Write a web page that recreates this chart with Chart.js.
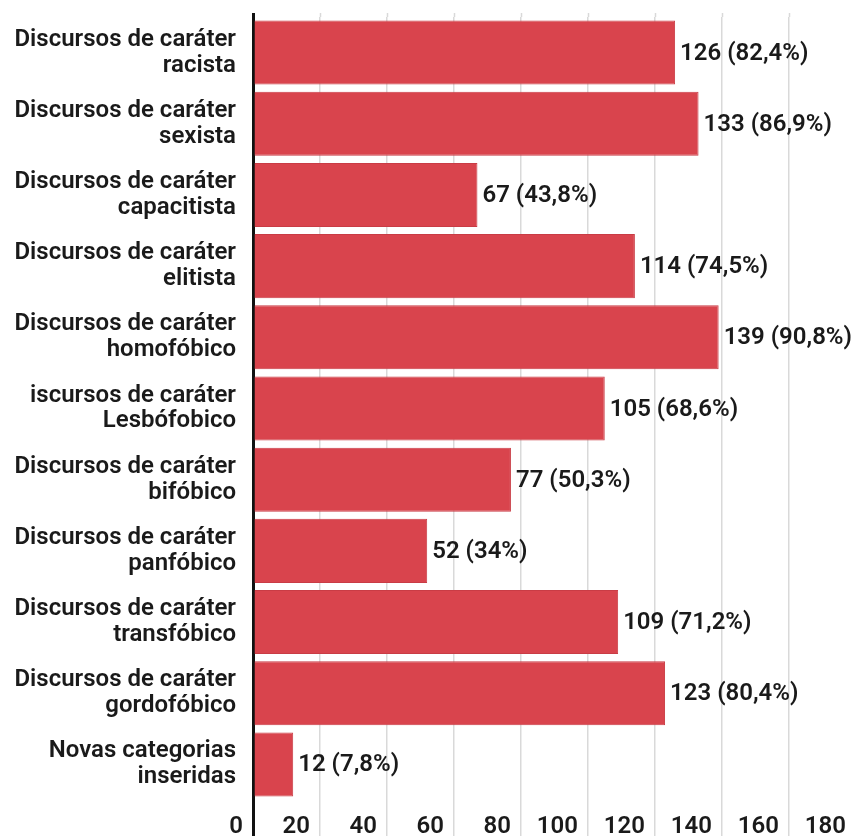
<!DOCTYPE html>
<html>
<head>
<meta charset="utf-8">
<script src="https://cdn.jsdelivr.net/npm/chart.js@4"></script>
<style>
    html, body { margin: 0; padding: 0; background: #fff; overflow: hidden; }
    #wrap { width: 860px; height: 836px; }
</style>
</head>
<body>
<div id="wrap"><canvas id="myChart"></canvas></div>
<script>
const categories = [
    ['Discursos de caráter', 'racista'],
    ['Discursos de caráter', 'sexista'],
    ['Discursos de caráter', 'capacitista'],
    ['Discursos de caráter', 'elitista'],
    ['Discursos de caráter', 'homofóbico'],
    ['iscursos de caráter', 'Lesbófobico'],
    ['Discursos de caráter', 'bifóbico'],
    ['Discursos de caráter', 'panfóbico'],
    ['Discursos de caráter', 'transfóbico'],
    ['Discursos de caráter', 'gordofóbico'],
    ['Novas categorias', 'inseridas'],
];
const counts = [126, 133, 67, 114, 139, 105, 77, 52, 109, 123, 12];
const percents = ['82,4', '86,9', '43,8', '74,5', '90,8', '68,6', '50,3', '34', '71,2', '80,4', '7,8'];
const xTicks = [0, 20, 40, 60, 80, 100, 120, 140, 160, 180];

const fontFamily = 'Roboto, "Open Sans", sans-serif';
const textColor = '#1a1a1a';

// value labels at the end of every bar: "126 (82,4%)"
const barLabels = {
    id: 'barLabels',
    afterDatasetsDraw(chart) {
        const ctx = chart.ctx;
        const meta = chart.getDatasetMeta(0);
        ctx.save();
        ctx.font = '600 24px ' + fontFamily;
        ctx.fillStyle = textColor;
        ctx.textAlign = 'left';
        ctx.textBaseline = 'middle';
        meta.data.forEach((bar, i) => {
            ctx.fillText(counts[i] + ' (' + percents[i] + '%)', bar.x + 5, bar.y + 1);
        });
        ctx.restore();
    }
};

const gridColor = (c) => (c.tick && c.tick.value === 0) ? '#111' : '#d9d9d9';
const gridWidth = (c) => (c.tick && c.tick.value === 0) ? 3 : 1.5;

new Chart(document.getElementById('myChart'), {
    type: 'bar',
    data: {
        labels: categories,
        datasets: [{
            data: counts,
            backgroundColor: '#d9444d',
            borderColor: '#c93c45',
            borderWidth: 1,
            barPercentage: 0.9,
            categoryPercentage: 1,
        }],
    },
    options: {
        indexAxis: 'y',
        responsive: true,
        maintainAspectRatio: false,
        animation: false,
        layout: { padding: { left: 0, right: 4, top: 0, bottom: 0 } },
        plugins: {
            legend: { display: false },
            tooltip: { enabled: false },
        },
        scales: {
            x: {
                position: 'bottom',
                min: 0,
                max: 180,
                afterBuildTicks: (s) => { s.ticks = xTicks.map(v => ({ value: v })); },
                afterFit: (s) => { s.height = 36; },
                border: { display: false },
                grid: {
                    color: gridColor,
                    lineWidth: gridWidth,
                    tickColor: gridColor,
                    tickWidth: gridWidth,
                    tickLength: 36,
                },
                ticks: {
                    align: 'end',
                    labelOffset: -10,
                    padding: -23,
                    color: textColor,
                    maxRotation: 0,
                    autoSkip: false,
                    font: { family: fontFamily, size: 24, weight: '600' },
                },
            },
            x2: {
                position: 'top',
                min: 0,
                max: 180,
                afterBuildTicks: (s) => { s.ticks = xTicks.map(v => ({ value: v })); },
                afterFit: (s) => { s.height = 17; },
                border: { display: false },
                grid: {
                    drawOnChartArea: false,
                    tickColor: gridColor,
                    tickWidth: gridWidth,
                    tickLength: 4,
                },
                ticks: { display: false },
            },
            y: {
                afterFit: (s) => {
                    s.width = 253;
                    s.paddingTop = 0;
                    s.paddingBottom = 0;
                },
                border: { display: false },
                grid: { display: false, drawTicks: false },
                ticks: {
                    padding: 17,
                    color: textColor,
                    font: { family: fontFamily, size: 24, weight: '600', lineHeight: 1.08 },
                },
            },
        },
    },
    plugins: [barLabels],
});
</script>
</body>
</html>
